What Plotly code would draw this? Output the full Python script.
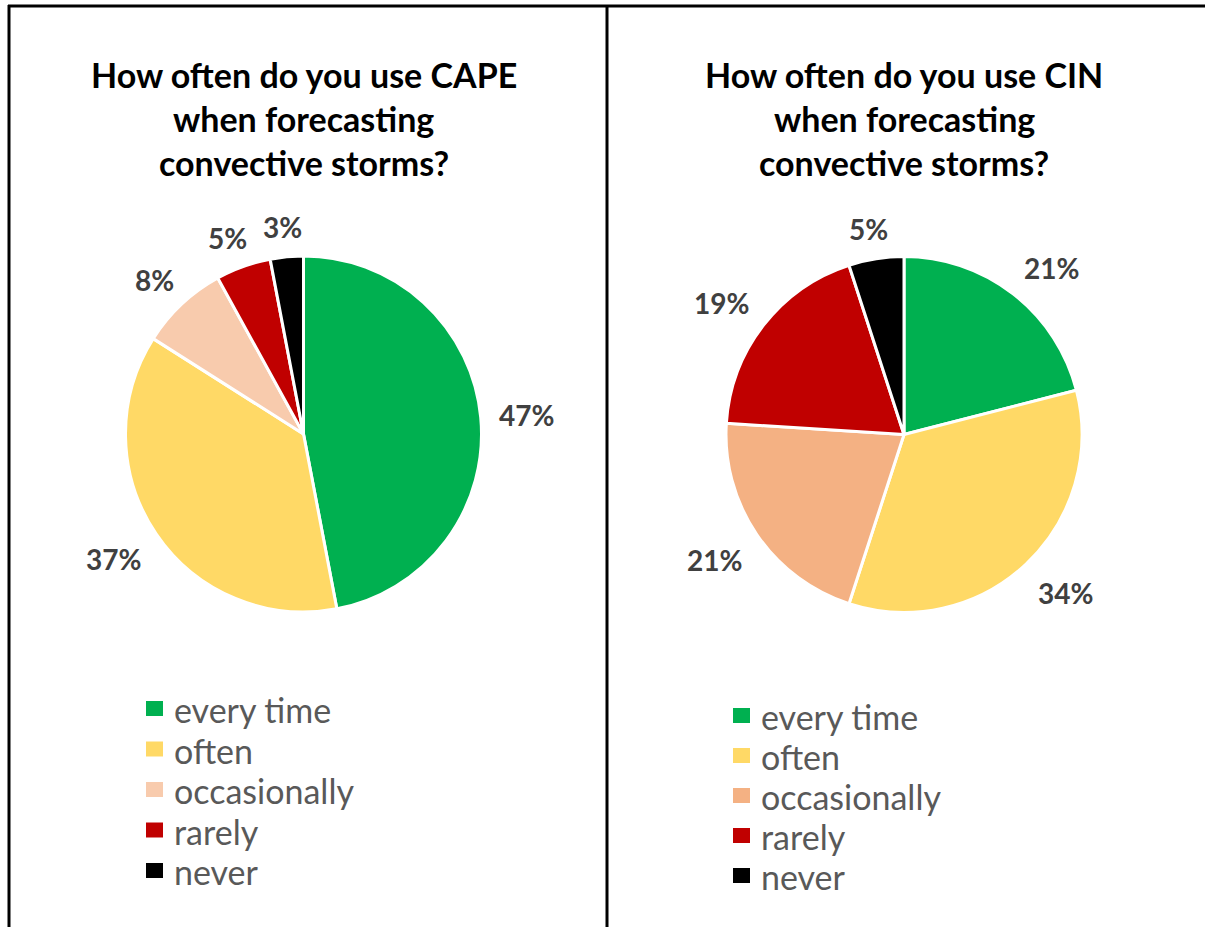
import math
import plotly.graph_objects as go

# Survey answers shared by both pies
categories = ["every time", "often", "occasionally", "rarely", "never"]
cape_share = [47, 37, 8, 5, 3]
cin_share = [21, 34, 21, 19, 5]

cape_colors = ["#00B050", "#FFD966", "#F8CBAD", "#C00000", "#000000"]
cin_colors = ["#00B050", "#FFD966", "#F4B183", "#C00000", "#000000"]

cape_title = ["How often do you use CAPE", "when forecasting", "convective storms?"]
cin_title = ["How often do you use CIN", "when forecasting", "convective storms?"]

W, H = 1205, 927
FONT = "Lato"


def fx(x):
    return x / W


def fy(y):
    return 1 - y / H


def clamp(v):
    return max(-1.0, min(1.0, v))


# panel layout (pixels)
panels = [
    dict(cx=303.5, cy=434, title=cape_title, values=cape_share, colors=cape_colors,
         leg_x=146, leg_y=708.5, leg_dy=40.5),
    dict(cx=904, cy=434.5, title=cin_title, values=cin_share, colors=cin_colors,
         leg_x=733, leg_y=715.5, leg_dy=40),
]
R = 178

fig = go.Figure()
annotations = []
shapes = []

for p in panels:
    cx, cy = p["cx"], p["cy"]
    fig.add_trace(go.Pie(
        labels=categories,
        values=p["values"],
        sort=False,
        direction="clockwise",
        rotation=0,
        textinfo="none",
        hoverinfo="label+percent",
        marker=dict(colors=p["colors"], line=dict(color="white", width=3)),
        domain=dict(x=[fx(cx - R), fx(cx + R)], y=[fy(cy + R), fy(cy - R)]),
        showlegend=False,
    ))

    # percentage labels just outside each slice: anchor point on a ring
    # outside the pie, then push the text box away from it
    total = sum(p["values"])
    cum = 0
    for v in p["values"]:
        mid = (cum + v / 2) / total * 2 * math.pi
        cum += v
        s, c = math.sin(mid), math.cos(mid)
        label = f"{round(v / total * 100)}%"
        hw = 13 * len(label) - 13  # approx half width of the text box
        hh = 12
        ax = cx + (R + 20) * s + hw * clamp(2 * s)
        ay = cy - (R + 20) * c - hh * clamp(2 * c) + 2
        annotations.append(dict(
            x=fx(ax), y=fy(ay), xref="paper", yref="paper",
            text=f"<b>{label}</b>", showarrow=False,
            xanchor="center", yanchor="middle",
            font=dict(family=FONT, size=28, color="#404040"),
        ))

    # three-line title
    for i, line in enumerate(p["title"]):
        annotations.append(dict(
            x=fx(cx), y=fy(74 + 44.5 * i), xref="paper", yref="paper",
            text=f"<b>{line}</b>", showarrow=False,
            xanchor="center", yanchor="middle",
            font=dict(family=FONT, size=34, color="black"),
        ))

    # legend rows
    for i, (name, col) in enumerate(zip(categories, p["colors"])):
        yc = p["leg_y"] + p["leg_dy"] * i
        shapes.append(dict(
            type="rect", xref="paper", yref="paper",
            x0=fx(p["leg_x"]), x1=fx(p["leg_x"] + 17),
            y0=fy(yc + 7.5), y1=fy(yc - 7.5),
            fillcolor=col, line=dict(width=0),
        ))
        annotations.append(dict(
            x=fx(p["leg_x"] + 26), y=fy(yc + 1), xref="paper", yref="paper",
            text=name, showarrow=False, xanchor="left", yanchor="middle",
            font=dict(family=FONT, size=34, color="#595959"),
        ))

# table frame around the two panels
frame = dict(color="black", width=3)
shapes += [
    dict(type="line", xref="paper", yref="paper", x0=fx(8), x1=1, y0=fy(6), y1=fy(6), line=frame),
    dict(type="line", xref="paper", yref="paper", x0=fx(9), x1=fx(9), y0=fy(5), y1=0, line=frame),
    dict(type="line", xref="paper", yref="paper", x0=fx(607), x1=fx(607), y0=fy(5), y1=0, line=frame),
]

fig.update_layout(
    width=W, height=H, autosize=False,
    margin=dict(l=0, r=0, t=0, b=0),
    paper_bgcolor="white", plot_bgcolor="white",
    annotations=annotations, shapes=shapes,
)

fig.write_html("out.html")
